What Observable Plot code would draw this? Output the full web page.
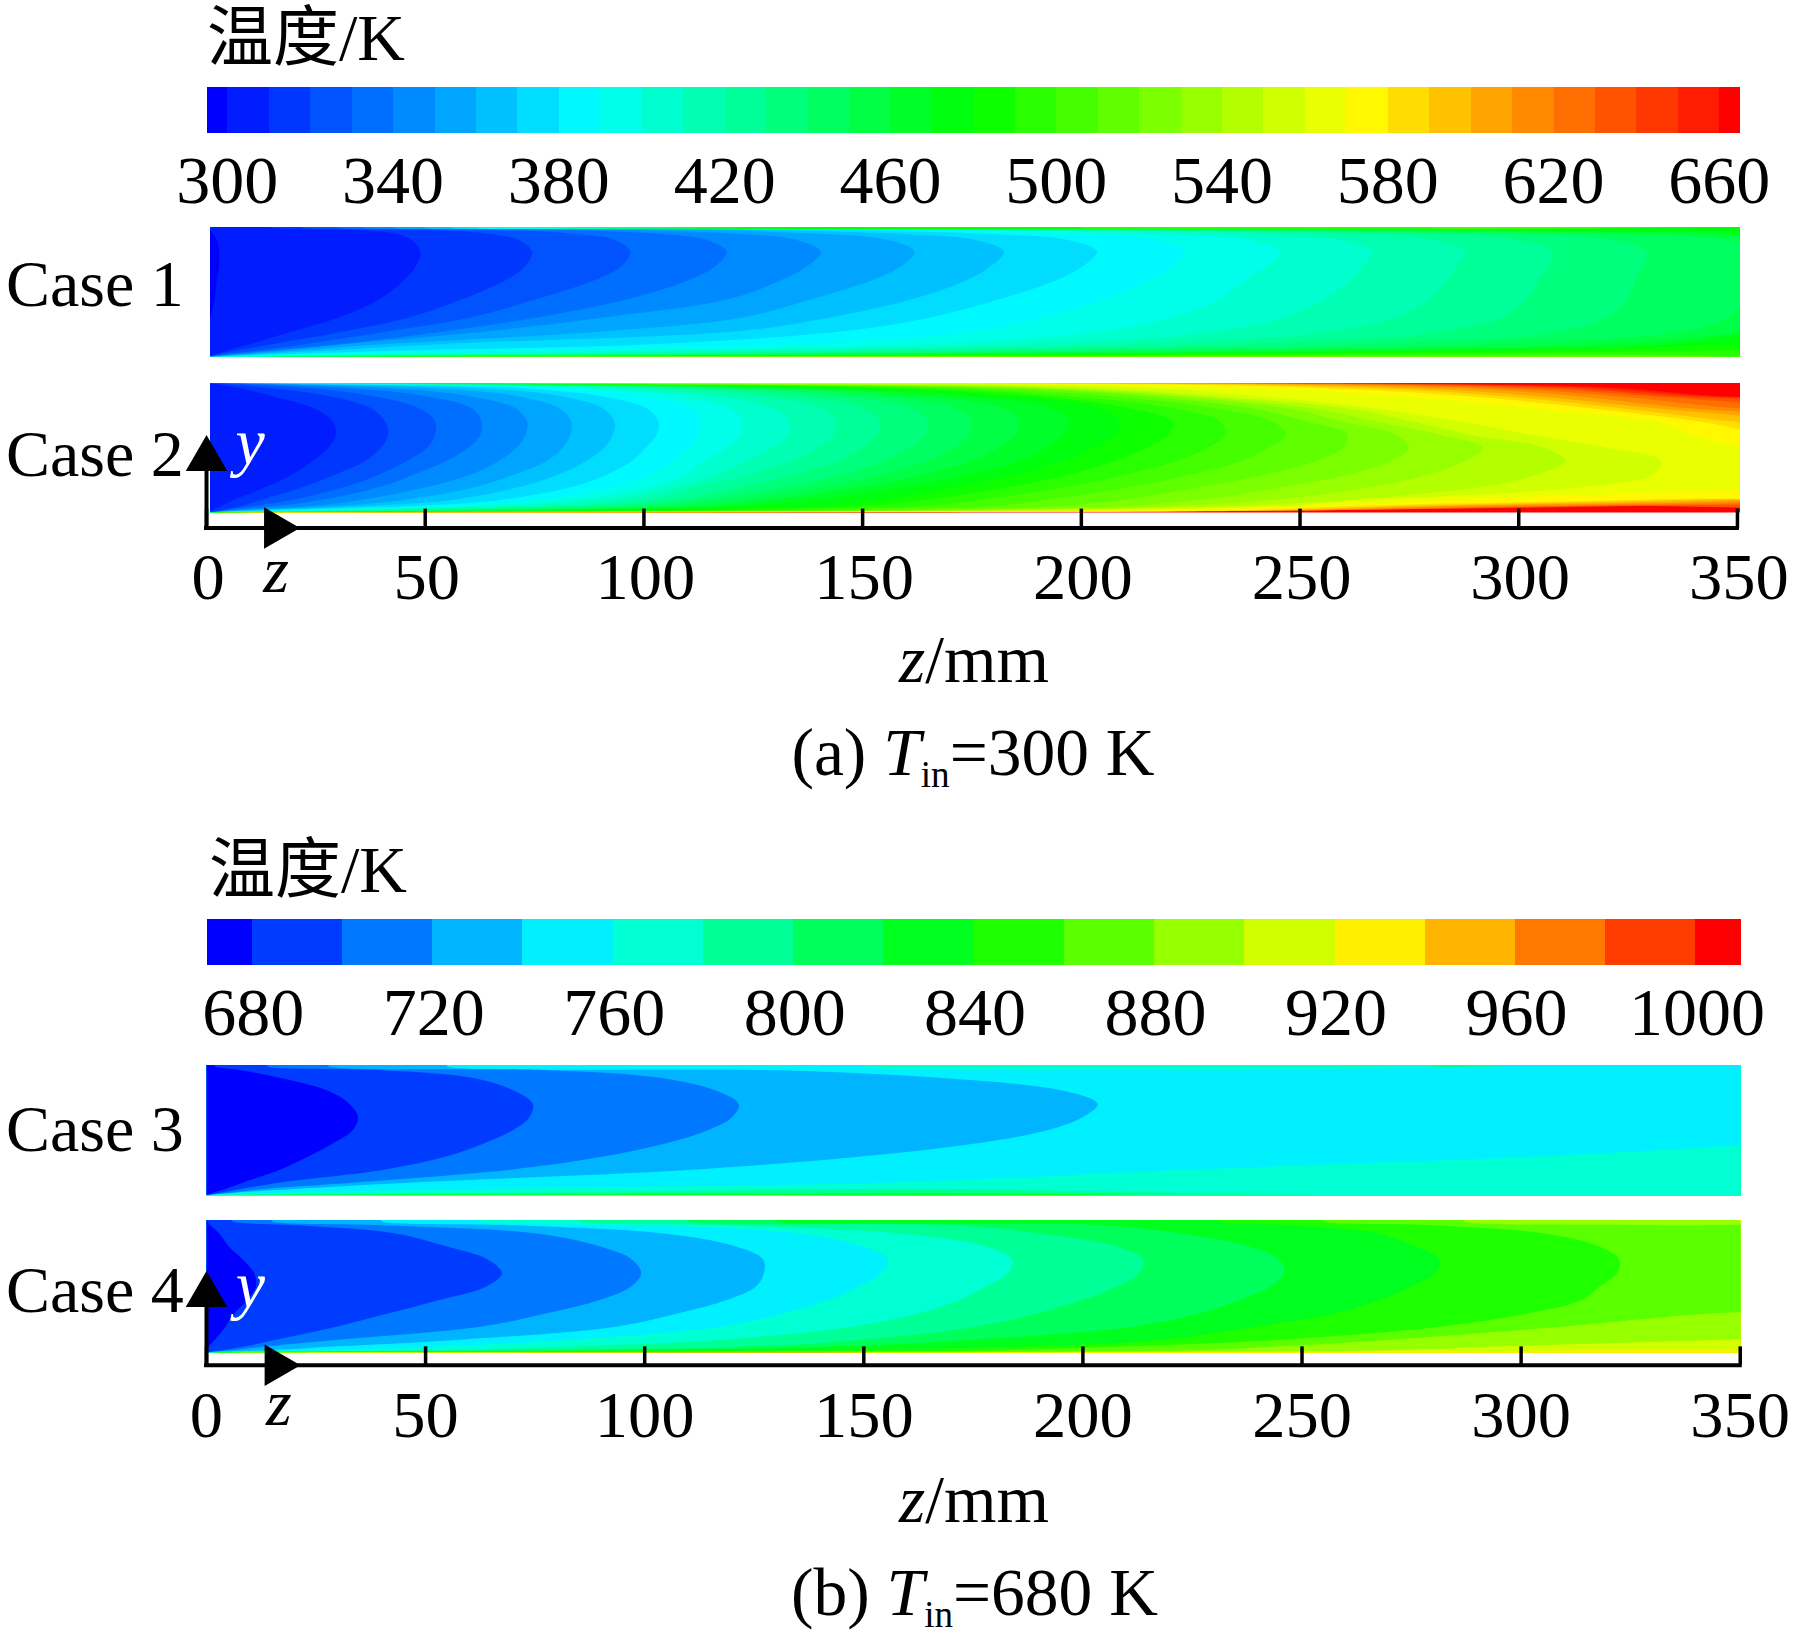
<!DOCTYPE html>
<html><head><meta charset="utf-8">
<script src="https://cdn.jsdelivr.net/npm/d3@7"></script>
<script src="https://cdn.jsdelivr.net/npm/@observablehq/plot@0.6"></script>
<style>
html,body{margin:0;padding:0;background:#fff}
#page{position:relative;width:1795px;height:1651px;overflow:hidden;font-family:"Liberation Serif",serif;color:#000}
.t{position:absolute;line-height:1;white-space:nowrap;transform:translateY(-50%);font-size:66px}
.c{transform:translate(-50%,-50%);font-size:67.5px}
.cjk{font-family:"Liberation Serif","Noto Sans CJK SC",serif;font-weight:400;font-size:66px}
sub{font-size:.55em;line-height:0;vertical-align:baseline;position:relative;top:.32em}
</style></head><body><div id="page"></div>
<script>
// ---------- Colour bars ----------
const breaksA = d3.range(300, 661, 10);
const breaksB = d3.range(680, 1001, 20);
const ticksA = [300,340,380,420,460,500,540,580,620,660];
const ticksB = [680,720,760,800,840,880,920,960,1000];
const zTicks = [0,50,100,150,200,250,300,350];

// ---------- Case 1: isotherm position z (mm) at each height fraction y ----------
const case1Stations = [.005,.02,.05,.1,.2,.3,.45,.6,.7,.81,.9,.95,.98,.995];
const case1Levels = [300,310,320,330,340,350,360,370,380,390,400,410,420,430,440,450,460,470,480,490,500,510,520,530];
const case1Z = [
 [0,0,0,0,.5,1,2,2.5,3,3,2.5,1.5,.8,0],
 [.5,2,5,10,20,30,40,45.5,48,49,47,43,32,15],
 [.6,2.5,7,15.5,32,46,59,69,73,74.5,71.5,64,48,22],
 [.7,4,12,23,42,60,76,89.5,95,97,93.5,83,63,30],
 [1,5,15,31,55,75,97,111,116.5,119,114.5,102,77,36],
 [1.5,7,17,32,65,90,120,132,137.5,140.6,135,120,91,43],
 [2,9,21,41,92,122,139,153,159,162,156,139,105,50],
 [2.5,11,28,54,122,142,162,174.5,179.5,182.4,176,157,119,56],
 [3,16,45,103,146,165,182,195,200.5,203.7,197,176,133,62],
 [4,24,60,135,176,191,206,216,221,224,217,194,146,68],
 [6,38,100,165,205,220,232,238,242.5,245.6,238,213,160,75],
 [9,55,125,190,232,246,256,262,264.5,266.6,259,232,175,82],
 [12,75,150,215,258,272,280,284,286,288,280,251,190,90],
 [16,95,175,240,284,296,302,305,307,308,300,270,205,98],
 [20,115,200,268,310,320,325,327,328.5,329.5,321,290,220,105],
 [25,135,225,295,338,348,352,355,356,357,348,312,235,112],
 [30,155,250,320,352,365,420,420,420,420,372,335,250,120],
 [36,180,275,335,355,380,420,420,420,420,420,360,270,130],
 [44,205,300,352,400,420,420,420,420,420,420,420,290,150],
 [54,240,352,420,420,420,420,420,420,420,420,420,330,200],
 [70,300,420,420,420,420,420,420,420,420,420,420,420,280],
 [100,352,420,420,420,420,420,420,420,420,420,420,420,420],
 [150,420,420,420,420,420,420,420,420,420,420,420,420,420],
 [220,420,420,420,420,420,420,420,420,420,420,420,420,420]
];

// ---------- Case 2 ----------
const case2Stations = [.005,.02,.05,.1,.2,.3,.4,.5,.6,.7,.8,.9,.96,.99];
const case2Levels = [310,320,330,340,350,360,370,380,390,400,410,420,430,440,450,460,470,480,490,500,510,520,530,540,550,560,570,580,590,600,610,620,630,640,650,660];
const case2Z = [
 [.5,1.5,3.5,6.5,14,20,24.5,28,29.7,29,25,15,8,2.5],
 [.8,4,8,13,22.5,30,36.5,40,41.6,41,38,28,15,5],
 [1,4,11,20,32,40,46,50.5,52.3,52.4,49,38,24,9],
 [1.2,6,16,27,40,48,55,60,62.7,63,61,50,33,12],
 [1.5,8,24,36,51,61,67,71,73,73.4,71,60,42,16],
 [2,10,30,46,62,71,78,81.5,83.3,83.5,81,71,52,20],
 [2.5,14,37,57,72,81,87,91,93,93.4,91,81,62,25],
 [3,18,48,68,84,92,97.5,100.5,103,103.4,101,90,72,31],
 [3.5,22,52,76,93,102,107,110.5,112.7,113,111,99,80,35],
 [4,28,60,85,102,110,114,119,122,122.8,120,108,88,40],
 [5,35,70,93,108,117,124,129.5,133,133.5,130,117,96,45],
 [6,45,80,101,113,125,134,140,143.5,144,141,126,103,50],
 [7,52,90,108,123,135,145,150,153.5,154,151,135,110,55],
 [8,60,98,114,132,146,155,161,164.5,165,162,145,118,60],
 [9,70,105,122,141,155,165,171,174.5,175,172,154,126,65],
 [10,80,113,130,150,165,175,181,185,186,183,163,134,70],
 [12,90,120,139,160,175,186,192,196,197.5,194,173,142,75],
 [14,105,140,155,172,186,196,203,208,209,205,183,150,80],
 [16,120,150,165,184,198,208,215,220,221,212,190,158,85],
 [20,135,165,178,197,211,222,229,233,232,222,197,168,95],
 [25,150,180,193,212,226,237,243,247,244,232,206,176,105],
 [30,162,195,210,228,243,254,260,261,252,240,214,184,115],
 [40,175,210,228,247,262,271,275,272,260,248,220,190,130],
 [55,185,222,245,267,280,288,292,282,268,254,225,195,140],
 [75,195,235,262,292,305,310.7,306,289,276,262,230,203,160],
 [95,205,245,268,316,331,332.6,320,303,287,268,240,217,180],
 [130,222,254,286,370,420,420,352,340,332,305,272,242,195],
 [160,240,262,330,420,420,420,420,358,342,318,288,256,215],
 [175,245,272,340,420,420,420,420,380,350,325,296,268,228],
 [185,249,281,352,420,420,420,420,420,370,333,304,278,240],
 [190,253,290,365,420,420,420,420,420,400,341,313,288,252],
 [195,256,305,380,420,420,420,420,420,420,352,322,297,260],
 [198,259,315,400,420,420,420,420,420,420,372,330,305,268],
 [200,260,322,420,420,420,420,420,420,420,400,336,312,275],
 [202,261,325,420,420,420,420,420,420,420,420,342,318,282],
 [205,262,328,420,420,420,420,420,420,420,420,345,324,289]
];

// ---------- Case 3 ----------
const case34Stations = [.005,.02,.05,.1,.2,.3,.4,.5,.6,.7,.8,.9,.96,.99];
const case3Levels = [680,700,720,740,760,780,800,820,840];
const case3Z = [
 [.3,1.5,4.5,8.5,17,23.5,29,33.5,34.7,32.8,28,17,8,2],
 [.5,3,8,17,41,55,63.5,70,73.8,74.6,70.5,61,40,14],
 [.5,5,13,34,70,91,105,114.5,120,121.6,116.6,104,78,28],
 [.5,6,20,47,112,150,176,192,200,203.5,196,168,130,55],
 [.7,15,62,157,225,305,360,420,420,420,420,420,225,150],
 [2,70,150,420,420,420,420,420,420,420,420,420,420,280],
 [10,150,420,420,420,420,420,420,420,420,420,420,420,420],
 [40,300,420,420,420,420,420,420,420,420,420,420,420,420],
 [100,420,420,420,420,420,420,420,420,420,420,420,420,420]
];

// ---------- Case 4 ----------
const case4Levels = [680,700,720,740,760,780,800,820,840,860,880,900,920,940,960];
const case4Z = [
 [0,.2,.7,2,4.5,6.5,9.5,11.4,11,8.5,5.2,3,1,.3],
 [.3,3.5,9,16,30,42,53.5,64,67.5,64.5,55,43,21,6],
 [.5,6,14,30,63,78,90,97,99.3,97.3,90,75,40,15],
 [.7,14,30,58,94,108,119,125.5,127.3,127.2,121,104,70,40],
 [1,25,55,83,118,132,142,149,154,155.6,150,135,100,62],
 [1.5,50,85,118,148,163,172,178,183,184,178,158,120,85],
 [2,75,125,150,176,190,200,208,213,214,208,190,170,110],
 [3,95,145,175,212,227,236,243,246,245,238,222,205,130],
 [5,140,188,218,240,258,268,275,280.5,281.5,276,267,248,231],
 [8,180,210,245,282,302,314,318,322,322.5,318,305,280,255],
 [20,225,245,270,310,345,420,420,420,420,420,420,330,287],
 [30,270,295,345,420,420,420,420,420,420,420,420,420,350],
 [40,330,420,420,420,420,420,420,420,420,420,420,420,420],
 [120,420,420,420,420,420,420,420,420,420,420,420,420,420],
 [140,420,420,420,420,420,420,420,420,420,420,420,420,420]
];

// ---------- Helpers ----------
const serif = '"Liberation Serif", serif';
const page = document.getElementById("page");
const rainbow = d3.scaleLinear().domain([0,.25,.5,.75,1])
  .range(["#0000ff","#00ffff","#00ff00","#ffff00","#ff0000"]);
const palette = n => d3.range(n).map(i => d3.rgb(rainbow(i/(n-1))).formatHex());
const colorA = {type:"threshold", domain:breaksA, range:palette(breaksA.length+1)};
const colorB = {type:"threshold", domain:breaksB, range:palette(breaksB.length+1)};

function place(svg, top){ svg.style.position="absolute"; svg.style.left="0"; svg.style.top=top+"px"; svg.style.overflow="visible"; page.appendChild(svg); }
function label(html, x, y, cls=""){ const d=document.createElement("div"); d.className="t "+cls; d.innerHTML=html; d.style.left=x+"px"; d.style.top=y+"px"; page.appendChild(d); }

function colorBar(breaks, ticks, color, xDomain, left, right, top, barH, pad, dx){
  const bands = [{lo:xDomain[0],hi:breaks[0],T:breaks[0]-1}]
    .concat(breaks.map((b,i)=>({lo:b,hi:i<breaks.length-1?breaks[i+1]:xDomain[1],T:b+1})));
  place(Plot.plot({
    width:1795, height:barH+100, marginTop:0, marginBottom:100, marginLeft:left, marginRight:1795-right,
    x:{domain:xDomain, axis:null}, y:{axis:null}, color,
    style:{background:"transparent"},
    marks:[
      Plot.rectX(bands,{x1:"lo",x2:"hi",fill:"T",shapeRendering:"crispEdges"}),
      Plot.axisX({ticks, tickSize:0, tickPadding:pad, dx, fontSize:68, fontFamily:serif, fill:"#000", tickFormat:d=>String(d), label:null})
    ]
  }), top);
}

function points(levels, stations, rows, heatedTop){
  const out=[];
  for(let i=levels.length-1;i>=0;i--){
    const r=rows[i], T=levels[i]-1;
    const zs=[0,...r,heatedTop?0:r[r.length-1]], ys=[0,...stations,1];
    ys.forEach((y,j)=>out.push({T,y,z:zs[j]}));
  }
  return out;
}

function panel({levels,stations,rows,color,xDomain,left,right,top,h,axis,heatedTop}){
  const extra = axis ? 115 : 0;
  const T0 = levels[levels.length-1]+1;
  const marks=[
    Plot.rect([{T:T0}],{x1:()=>xDomain[0],x2:()=>xDomain[1],y1:()=>0,y2:()=>1,fill:"T"}),
    Plot.areaX(points(levels,stations,rows,heatedTop),{x1:()=>-20,x2:"z",y:"y",z:"T",fill:"T",curve:"catmull-rom",clip:true})
  ];
  if(axis){
    marks.push(
      Plot.ruleY([axis.y],{x1:()=>0,x2:()=>350,stroke:"#000",strokeWidth:4,strokeLinecap:"square"}),
      Plot.ruleX(zTicks,{y1:()=>axis.y,y2:()=>axis.tick,stroke:"#000",strokeWidth:3.5}),
      Plot.ruleX([0],{y1:()=>axis.y,y2:()=>axis.arrowY,stroke:"#000",strokeWidth:4}),
      Plot.dot([{z:0,y:axis.arrowY}],{x:"z",y:"y",symbol:"triangle",r:15.4,fill:"#000",stroke:null}),
      Plot.dot([{z:axis.arrowZ,y:axis.y}],{x:"z",y:"y",symbol:"triangle",r:15.4,rotate:90,fill:"#000",stroke:null}),
      Plot.text(["y"],{x:()=>10,y:()=>axis.yLabel,text:d=>d,fill:"#fff",fontSize:66,fontStyle:"italic",fontFamily:serif}),
      Plot.text(["z"],{x:()=>axis.zLabelX,y:()=>axis.zLabel,text:d=>d,fill:"#000",fontSize:66,fontStyle:"italic",fontFamily:serif}),
      Plot.axisX({ticks:zTicks, tickSize:0, tickPadding:axis.pad, dx:axis.dx, fontSize:66.5, fontFamily:serif, fill:"#000", tickFormat:d=>String(d), label:null})
    );
  }
  place(Plot.plot({
    width:1795, height:h+extra, marginTop:0, marginBottom:extra, marginLeft:left, marginRight:1795-right,
    x:{domain:xDomain, axis:null}, y:{domain:[0,1], axis:null}, color,
    style:{background:"transparent"}, marks
  }), top);
}

// ---------- (a) ----------
label('温度/K',207,37.5,"cjk");
colorBar(breaksA,ticksA,colorA,[295,665],206.6,1740,87,46,21,-.5);
panel({levels:case1Levels,stations:case1Stations,rows:case1Z,color:colorA,xDomain:[.91,350.7],left:210,right:1740,top:227,h:130});
panel({levels:case2Levels,stations:case2Stations,rows:case2Z,color:colorA,xDomain:[.91,350.7],left:210,right:1740,top:382.5,h:129.5,heatedTop:true,
  axis:{y:-.116,tick:.03,arrowY:.417,arrowZ:15.9,yLabel:.545,zLabel:-.444,zLabelX:15.9,pad:39,dx:1.5}});
label('Case 1',6,283.6); label('Case 2',6,453.6);
label('<i>z</i>/mm',974,660.3,"c");
label('(a) <i>T</i><sub>in</sub>=300 K',973,753.4,"c");

// ---------- (b) ----------
label('温度/K',209,870.4,"cjk");
colorBar(breaksB,ticksB,colorB,[670,1010],206.6,1740.6,918.7,46,20.8,1);
panel({levels:case3Levels,stations:case34Stations,rows:case3Z,color:colorB,xDomain:[.14,350.2],left:206.6,right:1740.6,top:1065,h:130.5});
panel({levels:case4Levels,stations:case34Stations,rows:case4Z,color:colorB,xDomain:[.14,350.2],left:206.6,right:1740.6,top:1219.5,h:133,
  axis:{y:-.088,tick:.05,arrowY:.44,arrowZ:16,yLabel:.508,zLabel:-.375,zLabelX:16.5,pad:36.5,dx:0}});
label('Case 3',6,1128.8); label('Case 4',6,1289.5);
label('<i>z</i>/mm',974,1500,"c");
label('(b) <i>T</i><sub>in</sub>=680 K',974.5,1593,"c");
</script></body></html>
